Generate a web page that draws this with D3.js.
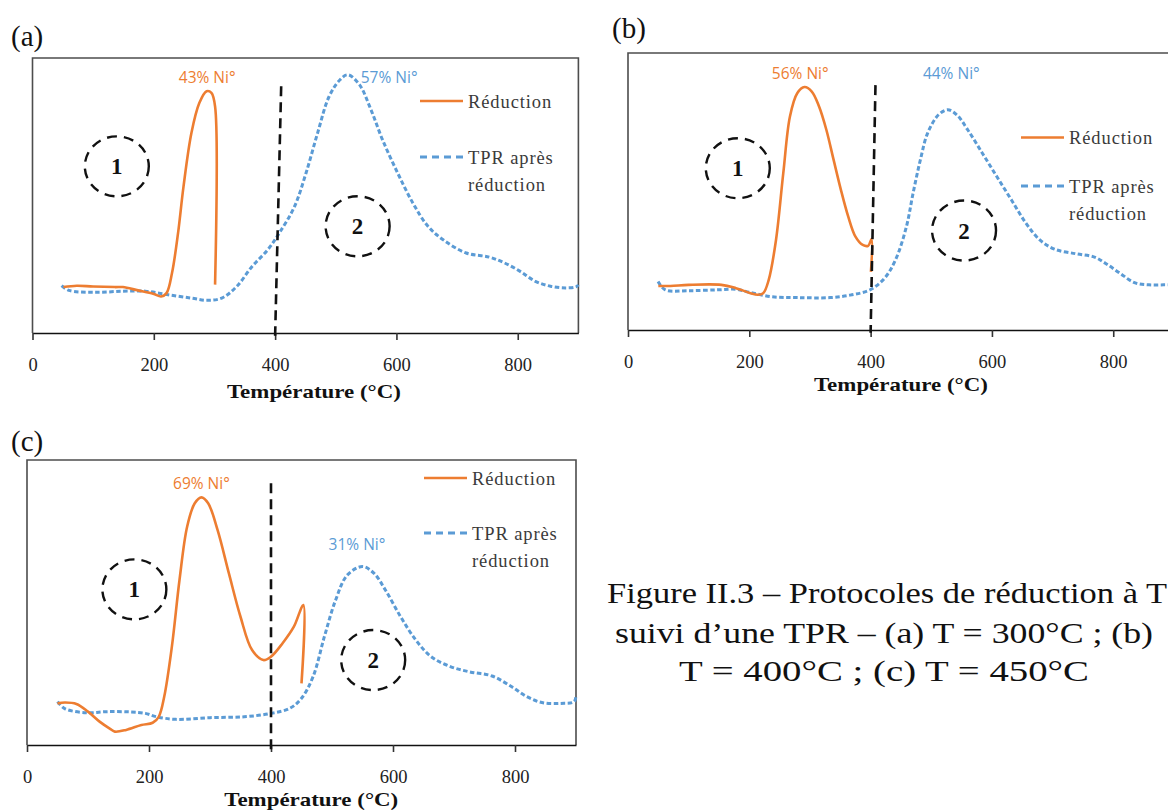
<!DOCTYPE html>
<html><head><meta charset="utf-8">
<script src="https://cdn.jsdelivr.net/npm/d3@7"></script>
<style>body{margin:0;background:#fff;}svg{display:block}</style>
</head><body>
<svg id="fig" width="1168" height="812"></svg>
<script>
// ---------- data (temperature °C, relative intensity 0-100) ----------
const xTicks = [0, 200, 400, 600, 800];
const xTitle = "Température (°C)";
const legendLabels = ["Réduction", "TPR après", "réduction"];

// panel (a) : reduction at 300 °C
const aRedT = [51,73,100,136,149,174,199,212,221,230,240,249,262,275,287,295,301,301];
const aRedV = [16.7,17.2,16.9,16.7,16.7,15.5,14.3,13.3,14.5,21.8,36.4,53.3,72.7,83.6,87.9,87.3,82.4,17.6];
const aTprT = [48,60,105,149,186,224,262,287,312,337,362,388,407,432,451,470,489,507,520,539,558,577,602,627,652,677,715,753,778,804,829,854,879,896,900];
const aTprV = [17.2,15.5,14.8,15.2,15.2,13.9,12.7,11.9,12.7,17,24.2,30.3,36.4,46,58.2,72.7,86,92.1,93.9,90.3,81.2,70.3,58.2,47.3,38.8,33.9,29.1,27.6,25.5,22.4,18.8,17,16.4,16.8,17.5];
const aLabels = ["43% Ni°", "57% Ni°"];
const aLabelT = [288, 588];
const aLabelV = [90.9, 90.9];
const aCutT = [410, 400];
const aCutV = [89.7, -1];
const aZoneT = [139, 536];
const aZoneV = [60.6, 38.8];

// panel (b) : reduction at 400 °C
const bRedT = [50,70,100,154,178,202,214,223,232,244,256,267,279,291,303,315,327,339,351,363,375,387,396,401.5,400.5];
const bRedV = [15.9,15.9,16.3,16.3,15.1,13.3,12.7,13.3,18.1,32.5,56.6,77.1,85.5,87.7,86.1,80.7,72.3,61.4,50.6,41,33.7,30.7,30.4,32.8,21];
const bTprT = [49.6,61.5,100,148,178,202,238,279,333,369,399,423,441,459,470,482,494,512,527,542,560,584,608,632,656,679,703,739,769,787,811,835,859,883,905];
const bTprV = [17.5,14.5,14.2,14.5,14.7,13.5,12,11.7,11.7,12.7,14.5,18.7,25.3,37.3,49.4,61.4,71.1,77.7,79.5,77.7,72.3,63.9,55.4,47,38.6,32.5,29.2,27.5,26.3,24.1,20.5,17.1,16.3,16.3,16.3];
const bLabels = ["56% Ni°", "44% Ni°"];
const bLabelT = [284, 533];
const bLabelV = [90.6, 90.6];
const bCutT = [408, 400];
const bCutV = [88.4, -1];
const bZoneT = [181, 554];
const bZoneV = [58.4, 35.9];

// panel (c) : reduction at 450 °C
const cRedT = [50,62.5,81,100,119,137.5,144,162.5,187.5,206,216,225,237.5,250,262.5,275,286,297,312.5,331,350,369,387.5,400,419,437.5,453,450];
const cRedV = [14.6,14.9,14.4,11.7,8.2,5.5,4.7,5.3,7,7.8,9.9,17,34.5,57.9,76.6,84.8,86.9,84.8,75.4,60.2,45,33.3,29.8,31,35.7,41.5,49.1,21.6];
const cTprT = [50,62.5,100,131,169,194,212.5,244,300,356,400,431,450,469,487.5,506,525,550,569,587.5,612.5,637.5,662.5,694,725,762.5,794,819,844,875,897,900];
const cTprV = [15.2,12.7,11.3,11.7,11.6,11.1,9.9,9,9.6,9.9,11.1,12.9,16.4,24,38,50.9,59.6,62.6,60.2,54.4,45,36.8,31,27.5,25.7,24.2,20.5,17,14.9,14.6,15.2,17.5];
const cLabels = ["69% Ni°", "31% Ni°"];
const cLabelT = [286, 541];
const cLabelV = [89.7, 68.4];
const cCutT = [400, 400];
const cCutV = [91.8, -2.5];
const cZoneT = [176, 567.5];
const cZoneV = [54.6, 29.8];

const captionLines = [
  "Figure II.3 – Protocoles de réduction à T",
  "suivi d’une TPR – (a) T = 300°C ; (b)",
  "T = 400°C ; (c) T = 450°C"
];

// ---------- styling / layout ----------
const ORANGE = "#ED7D31", BLUE = "#5B9BD5";
const SERIF = "'Liberation Serif', 'Times New Roman', serif";
const SANS = "'Open Sans', 'Noto Sans', sans-serif";

const svg = d3.select("#fig");

const panels = [
  {tag:"(a)", tagX:11, tagY:46, left:32.5, right:578.4, top:58, bottom:333, titleT:464, titleY:398,
   red:[aRedT,aRedV], tpr:[aTprT,aTprV], lab:[aLabels,aLabelT,aLabelV], cut:[aCutT,aCutV], zone:[aZoneT,aZoneV],
   leg:{x:420, y1:101, y2:157}},
  {tag:"(b)", tagX:612, tagY:38, left:628, right:1173.9, top:53, bottom:330, titleT:450, titleY:391,
   red:[bRedT,bRedV], tpr:[bTprT,bTprV], lab:[bLabels,bLabelT,bLabelV], cut:[bCutT,bCutV], zone:[bZoneT,bZoneV],
   leg:{x:1021, y1:137.5, y2:186}},
  {tag:"(c)", tagX:11, tagY:451, left:27, right:576, top:460, bottom:745, titleT:466, titleY:806,
   red:[cRedT,cRedV], tpr:[cTprT,cTprV], lab:[cLabels,cLabelT,cLabelV], cut:[cCutT,cCutV], zone:[cZoneT,cZoneV],
   leg:{x:424, y1:478, y2:533}}
];

function drawPanel(p) {
  const g = svg.append("g");
  const x = d3.scaleLinear().domain([0, 900]).range([p.left, p.right]);
  const y = d3.scaleLinear().domain([0, 100]).range([p.bottom, p.top]);

  // frame
  g.append("path")
    .attr("d", `M${p.left},${p.bottom}V${p.top}H${p.right}V${p.bottom}`)
    .attr("fill", "none").attr("stroke", "#4d4d4d").attr("stroke-width", 1.6);

  // x axis
  const ax = g.append("g").attr("transform", `translate(0,${p.bottom})`)
    .call(d3.axisBottom(x).tickValues(xTicks).tickSize(7).tickSizeOuter(0).tickPadding(18).tickFormat(d3.format("d")));
  ax.select(".domain").attr("stroke", "#111").attr("stroke-width", 1.6);
  ax.selectAll(".tick line").attr("stroke", "#333").attr("stroke-width", 1.6);
  ax.selectAll(".tick text").attr("font-family", SERIF).attr("font-size", 18.5).attr("fill", "#222");

  g.append("text").text(xTitle)
    .attr("x", x(p.titleT)).attr("y", p.titleY).attr("text-anchor", "middle")
    .attr("font-family", SERIF).attr("font-weight", "bold").attr("font-size", 19.5)
    .attr("textLength", 174).attr("lengthAdjust", "spacingAndGlyphs").attr("fill", "#111");

  // panel tag
  g.append("text").text(p.tag).attr("x", p.tagX).attr("y", p.tagY)
    .attr("font-family", SERIF).attr("font-size", 29).attr("fill", "#111");

  const line = d3.line().x(d => x(d[0])).y(d => y(d[1])).curve(d3.curveCatmullRom.alpha(0.5));

  // TPR curve (dotted blue)
  const tpr = p.tpr[0].map((t, i) => [t, p.tpr[1][i]]);
  g.append("path").attr("d", line(tpr)).attr("fill", "none")
    .attr("stroke", BLUE).attr("stroke-width", 3).attr("stroke-dasharray", "4.5,2.5");

  // reduction curve (solid orange)
  const red = p.red[0].map((t, i) => [t, p.red[1][i]]);
  g.append("path").attr("d", line(red)).attr("fill", "none")
    .attr("stroke", ORANGE).attr("stroke-width", 2.6).attr("stroke-linejoin", "round");

  // vertical separator
  g.append("line")
    .attr("x1", x(p.cut[0][0])).attr("y1", y(p.cut[1][0]))
    .attr("x2", x(p.cut[0][1])).attr("y2", y(p.cut[1][1]))
    .attr("stroke", "#111").attr("stroke-width", 2.6).attr("stroke-dasharray", "10,6");

  // zones 1 and 2
  p.zone[0].forEach((t, i) => {
    g.append("ellipse").attr("cx", x(t)).attr("cy", y(p.zone[1][i]))
      .attr("rx", 32).attr("ry", 30).attr("fill", "none")
      .attr("stroke", "#111").attr("stroke-width", 2.4).attr("stroke-dasharray", "10,7");
    g.append("text").text(String(i + 1)).attr("x", x(t)).attr("y", y(p.zone[1][i]) + 8)
      .attr("text-anchor", "middle").attr("font-family", SERIF).attr("font-weight", "bold")
      .attr("font-size", 23).attr("fill", "#111");
  });

  // Ni° percentages
  p.lab[0].forEach((s, i) => {
    g.append("text").text(s).attr("x", x(p.lab[1][i])).attr("y", y(p.lab[2][i]))
      .attr("text-anchor", "middle").attr("font-family", SANS).attr("font-size", 15.5)
      .attr("fill", i === 0 ? ORANGE : BLUE);
  });

  // legend
  const L = p.leg;
  g.append("line").attr("x1", L.x).attr("x2", L.x + 43).attr("y1", L.y1).attr("y2", L.y1)
    .attr("stroke", ORANGE).attr("stroke-width", 2.7);
  g.append("line").attr("x1", L.x).attr("x2", L.x + 43).attr("y1", L.y2).attr("y2", L.y2)
    .attr("stroke", BLUE).attr("stroke-width", 3.2).attr("stroke-dasharray", "7,5");
  const lt = (s, yy) => g.append("text").text(s).attr("x", L.x + 48).attr("y", yy)
    .attr("font-family", SERIF).attr("font-size", 18.5).attr("letter-spacing", 0.9).attr("fill", "#3a3a3a");
  lt(legendLabels[0], L.y1 + 6.5);
  lt(legendLabels[1], L.y2 + 6.5);
  lt(legendLabels[2], L.y2 + 34);
}

panels.forEach(drawPanel);

// caption
const cap = svg.append("g").attr("font-family", SERIF).attr("font-size", 29).attr("fill", "#111");
cap.append("text").text(captionLines[0]).attr("x", 607).attr("y", 603)
  .attr("textLength", 560).attr("lengthAdjust", "spacingAndGlyphs");
cap.append("text").text(captionLines[1]).attr("x", 884).attr("y", 643).attr("text-anchor", "middle")
  .attr("textLength", 538).attr("lengthAdjust", "spacingAndGlyphs");
cap.append("text").text(captionLines[2]).attr("x", 884).attr("y", 681).attr("text-anchor", "middle")
  .attr("textLength", 410).attr("lengthAdjust", "spacingAndGlyphs");
</script>
</body></html>
